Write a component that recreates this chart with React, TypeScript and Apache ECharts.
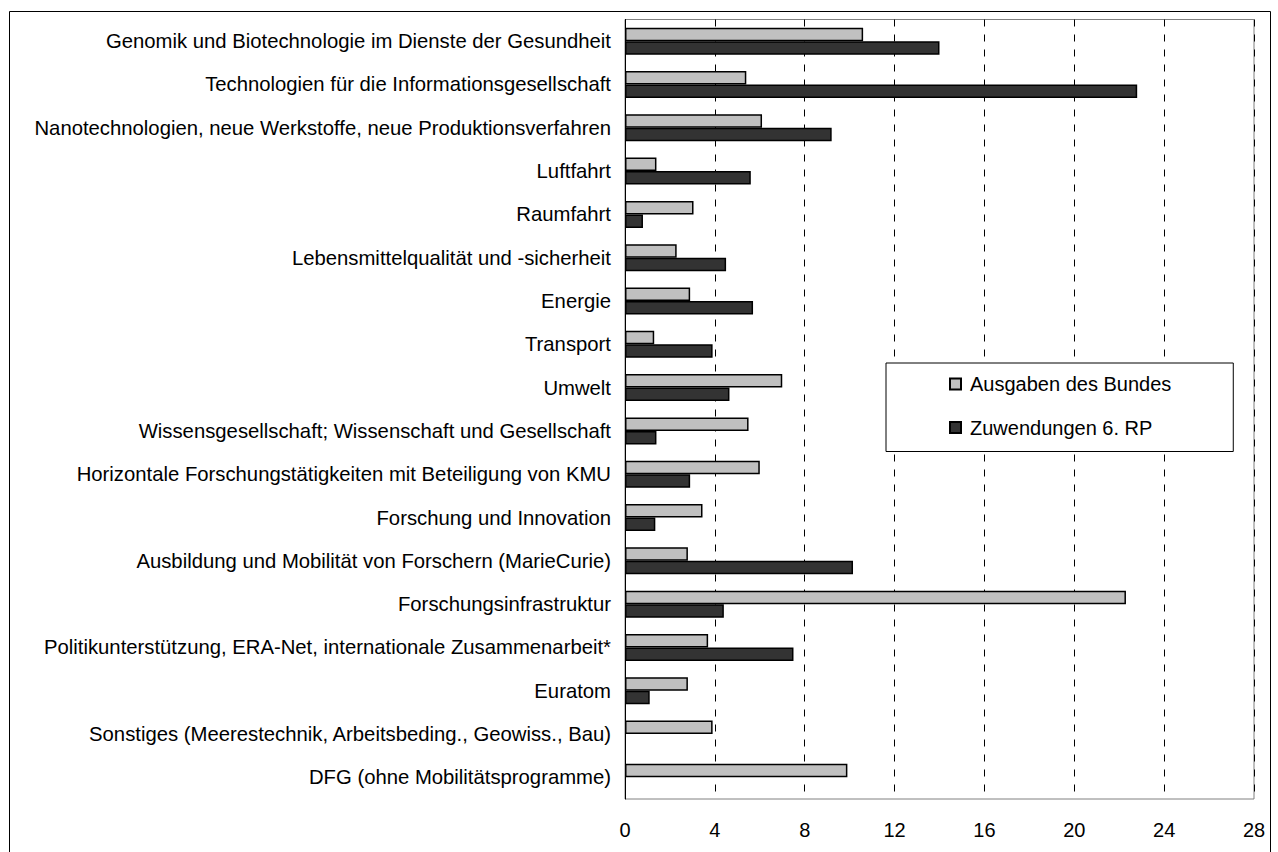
import React, { useEffect, useRef } from "react";
import * as echarts from "echarts";

const categories: string[] = [
  "Genomik und Biotechnologie im Dienste der Gesundheit",
  "Technologien für die Informationsgesellschaft",
  "Nanotechnologien, neue Werkstoffe, neue Produktionsverfahren",
  "Luftfahrt",
  "Raumfahrt",
  "Lebensmittelqualität und -sicherheit",
  "Energie",
  "Transport",
  "Umwelt",
  "Wissensgesellschaft; Wissenschaft und Gesellschaft",
  "Horizontale Forschungstätigkeiten mit Beteiligung von KMU",
  "Forschung und Innovation",
  "Ausbildung und Mobilität von Forschern (MarieCurie)",
  "Forschungsinfrastruktur",
  "Politikunterstützung, ERA-Net, internationale Zusammenarbeit*",
  "Euratom",
  "Sonstiges (Meerestechnik, Arbeitsbeding., Geowiss., Bau)",
  "DFG (ohne Mobilitätsprogramme)",
];

const ausgabenBund: number[] = [
  10.6, 5.4, 6.1, 1.4, 3.05, 2.3, 2.9, 1.3, 7.0, 5.5, 6.0, 3.45, 2.8, 22.3, 3.7, 2.8, 3.9, 9.9,
];

const zuwendungenRP: number[] = [
  14.0, 22.8, 9.2, 5.6, 0.8, 4.5, 5.7, 3.9, 4.65, 1.4, 2.9, 1.35, 10.15, 4.4, 7.5, 1.1, 0, 0,
];

const seriesNames = ["Ausgaben des Bundes", "Zuwendungen 6. RP"];
const xTicks = { min: 0, max: 28, interval: 4 };

export default function App() {
  const ref = useRef<HTMLDivElement>(null);
  useEffect(() => {
    if (!ref.current) return;
    const chart = echarts.init(ref.current, undefined, { renderer: "svg" });
    const font = "'Liberation Sans', Arial, sans-serif";
    const hideZero = (arr: number[]) => arr.map((v) => (v === 0 ? null : v));
    chart.setOption({
      animation: false,
      backgroundColor: "#ffffff",
      textStyle: { fontFamily: font, color: "#000" },
      grid: {
        left: 625,
        right: 24,
        top: 19.5,
        bottom: 53,
        show: true,
        borderColor: "#808080",
        borderWidth: 1,
        containLabel: false,
      },
      xAxis: {
        type: "value",
        min: xTicks.min,
        max: xTicks.max,
        interval: xTicks.interval,
        axisLine: { show: false },
        axisTick: { show: false },
        axisLabel: { fontSize: 20, color: "#000", fontFamily: font, margin: 21 },
        splitLine: {
          show: true,
          lineStyle: { color: "#000", type: [7, 8], width: 1 },
        },
      },
      yAxis: {
        type: "category",
        data: categories,
        inverse: true,
        axisLine: { show: true, lineStyle: { color: "#000", width: 1 } },
        axisTick: { show: false },
        axisLabel: { fontSize: 20.3, color: "#000", fontFamily: font, margin: 14 },
        splitLine: { show: false },
      },
      legend: {
        orient: "vertical",
        left: 886,
        top: 363,
        padding: [11, 62, 14, 63],
        itemGap: 23.5,
        itemWidth: 11,
        itemHeight: 11,
        borderColor: "#000",
        borderWidth: 1,
        borderRadius: 0,
        backgroundColor: "#fff",
        textStyle: { fontSize: 20, color: "#000", fontFamily: font, padding: [0, 0, 0, 4] },
        data: seriesNames.map((n) => ({ name: n, icon: "rect" })),
      },
      series: [
        {
          name: seriesNames[0],
          type: "bar",
          data: hideZero(ausgabenBund),
          barWidth: 13.5,
          barGap: "0%",
          itemStyle: { color: "#C0C0C0", borderColor: "#000", borderWidth: 1.5 },
        },
        {
          name: seriesNames[1],
          type: "bar",
          data: hideZero(zuwendungenRP),
          barWidth: 13.5,
          barGap: "0%",
          itemStyle: { color: "#333333", borderColor: "#000", borderWidth: 1.5 },
        },
      ],
      graphic: [
        {
          type: "rect",
          z: -10,
          silent: true,
          shape: { x: 9.5, y: 11.5, width: 1261, height: 900 },
          style: { fill: "none", stroke: "#000", lineWidth: 1 },
        },
      ],
    });
    return () => chart.dispose();
  }, []);
  return (
    <div
      ref={ref}
      style={{ position: "fixed", left: 0, top: 0, width: 1278, height: 852 }}
    />
  );
}
